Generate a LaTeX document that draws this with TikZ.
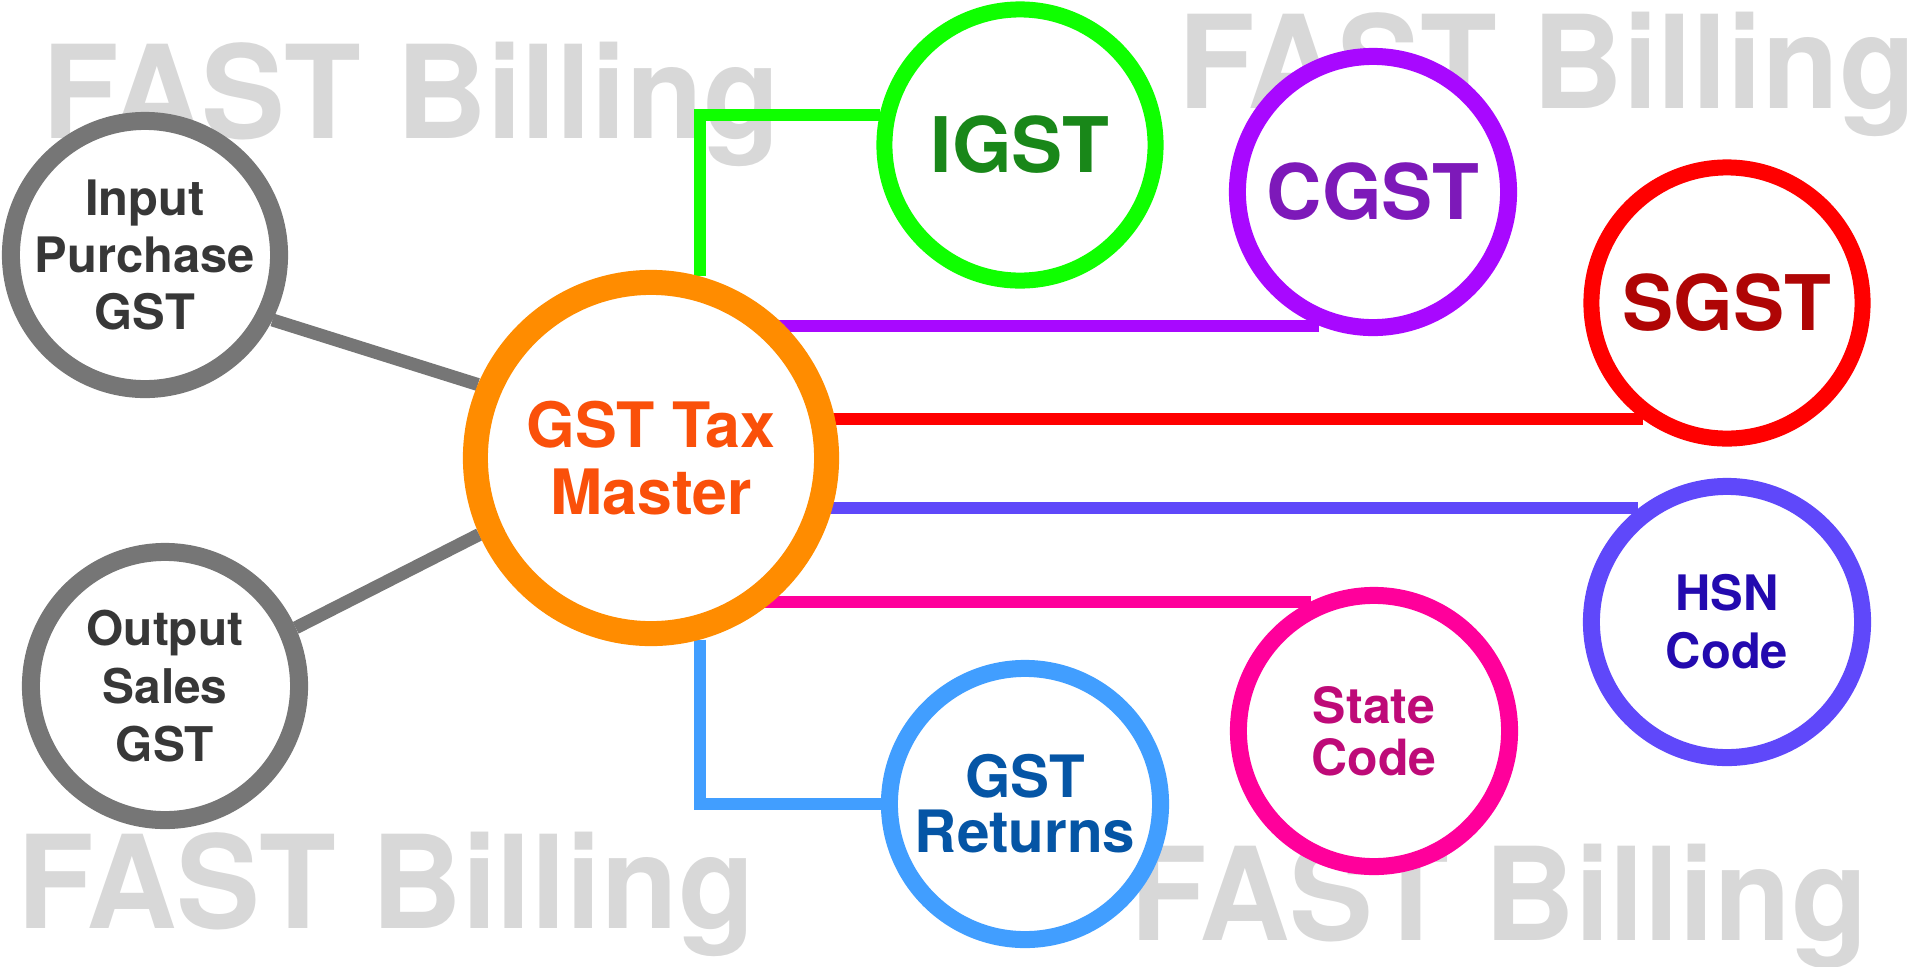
\documentclass[tikz,border=0pt]{standalone}
\usepackage{fontspec}
\setmainfont{TeX Gyre Heros}
\newfontfamily\wmfont[FakeStretch=0.97]{TeX Gyre Heros}
\usetikzlibrary{positioning}
\pgfdeclarelayer{wm}
\pgfdeclarelayer{links}
\pgfsetlayers{wm,links,main}

\definecolor{taxgray}{RGB}{118,118,118}
\definecolor{taxgraytext}{RGB}{55,55,55}
\definecolor{taxorange}{RGB}{255,140,0}
\definecolor{taxorangetext}{RGB}{250,80,10}
\definecolor{igstgreen}{RGB}{15,255,0}
\definecolor{igsttext}{RGB}{25,135,25}
\definecolor{cgstpurple}{RGB}{168,8,255}
\definecolor{cgsttext}{RGB}{125,25,185}
\definecolor{sgstred}{RGB}{255,0,0}
\definecolor{sgsttext}{RGB}{175,5,5}
\definecolor{hsnblue}{RGB}{95,72,250}
\definecolor{hsntext}{RGB}{35,10,175}
\definecolor{statepink}{RGB}{255,0,155}
\definecolor{statetext}{RGB}{190,10,120}
\definecolor{retblue}{RGB}{65,158,255}
\definecolor{rettext}{RGB}{5,85,165}
\definecolor{wmgray}{RGB}{216,216,216}

\begin{document}
\begin{tikzpicture}[x=0.01cm, y=-0.01cm,
        ring/.style={circle, draw, fill=white, line width=0.17cm, minimum size=2.71cm, inner sep=0pt, align=center},
        link/.style={line width=0.12cm},
        wmtext/.style={anchor=base west, inner sep=0pt, text=wmgray, font=\wmfont\fontsize{36.8}{40}\selectfont\bfseries}]
    \useasboundingbox (0,0) rectangle (1920,966);

    \node[ring, draw=taxgray, line width=0.18cm, minimum size=2.68cm, text=taxgraytext, font=\fontsize{13.9}{16.2}\selectfont\bfseries] (inp) at (145,255) {Input\\Purchase\\GST};
    \node[ring, draw=taxgray, line width=0.18cm, minimum size=2.68cm, text=taxgraytext, font=\fontsize{13.6}{16.4}\selectfont\bfseries] (outp) at (165,686) {Output\\Sales\\GST};
    \node[ring, draw=taxorange, line width=0.25cm, minimum size=3.51cm, text=taxorangetext, font=\fontsize{17.8}{19}\selectfont\bfseries] (master) at (651,458) {GST Tax\\Master};
    \node[ring, draw=igstgreen, line width=0.16cm, text=igsttext, font=\fontsize{21.8}{24}\selectfont\bfseries] (igst) at (1020,145) {IGST};
    \node[ring, draw=cgstpurple, text=cgsttext, font=\fontsize{21.8}{24}\selectfont\bfseries] (cgst) at (1373,192) {CGST};
    \node[ring, draw=sgstred, line width=0.16cm, text=sgsttext, font=\fontsize{21.8}{24}\selectfont\bfseries] (sgst) at (1727,303) {SGST};
    \node[ring, draw=hsnblue, text=hsntext, font=\fontsize{13.9}{16.5}\selectfont\bfseries] (hsn) at (1727,622) {HSN\\Code};
    \node[ring, draw=statepink, text=statetext, font=\fontsize{14.2}{14.8}\selectfont\bfseries] (state) at (1374,731) {State\\Code};
    \node[ring, draw=retblue, text=rettext, font=\fontsize{16.6}{15.6}\selectfont\bfseries] (ret) at (1025,804) {GST\\Returns};

    \begin{pgfonlayer}{links}
        \draw[link, taxgray, line width=0.13cm] (inp.-27) -- (master.157);
        \draw[link, taxgray, line width=0.13cm] (outp.24) -- (master.204);
        \draw[link, igstgreen] (master.75) |- (igst.168);
        \draw[link, cgstpurple] (cgst.248) -- (cgst.248 -| master);
        \draw[link, sgstred] (sgst.234) -- (sgst.234 -| master);
        \draw[link, hsnblue] (hsn.128) -- (hsn.128 -| master);
        \draw[link, statepink] (state.116) -- (state.116 -| master);
        \draw[link, retblue] (master.285) |- (ret.west);
    \end{pgfonlayer}

    \begin{pgfonlayer}{wm}
        \node[wmtext] (wm1) at (42,138) {FAST Billing};
        \node[wmtext] (wm2) at (1178,108) {FAST Billing};
        \node[wmtext] (wm3) at (17,928) {FAST Billing};
        \node[wmtext] (wm4) at (1130,940) {FAST Billing};
    \end{pgfonlayer}
\end{tikzpicture}
\end{document}
